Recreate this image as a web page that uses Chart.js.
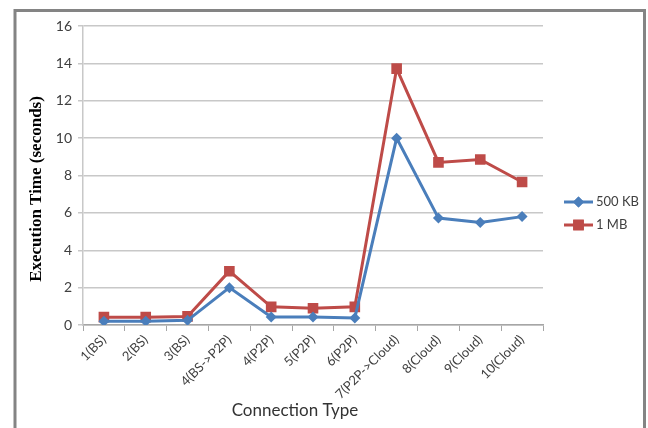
<!DOCTYPE html>
<html>
<head>
<meta charset="utf-8">
<script src="https://cdn.jsdelivr.net/npm/chart.js@4"></script>
<style>
  html, body { margin: 0; padding: 0; background: #fff; }
  #wrap { width: 648px; height: 428px; }
</style>
</head>
<body>
<div id="wrap"><canvas id="chart" width="648" height="428"></canvas></div>
<script>
const categories = [`1(BS)`, `2(BS)`, `3(BS)`, `4(BS->P2P)`, `4(P2P)`, `5(P2P)`, `6(P2P)`, `7(P2P->Cloud)`, `8(Cloud)`, `9(Cloud)`, `10(Cloud)`];
const kb500 = [0.2, 0.2, 0.25, 2.0, 0.43, 0.43, 0.38, 10.0, 5.72, 5.48, 5.8];
const mb1 = [0.42, 0.42, 0.46, 2.88, 0.97, 0.9, 0.97, 13.72, 8.7, 8.86, 7.65];
const seriesNames = [`500 KB`, `1 MB`];

const blue = `#4a7ebb`;
const red = `#be4b48`;
const tickFont = `Lato, "Liberation Sans", sans-serif`;

// outer frame, axis titles and the line+marker legend
const decorations = {
    id: `decorations`,
    beforeDraw(chart) {
        const ctx = chart.ctx;
        ctx.save();
        ctx.strokeStyle = `#848484`;
        ctx.lineWidth = 3;
        ctx.strokeRect(15, 10.5, 629.5, 440);
        ctx.restore();
    },
    afterDraw(chart) {
        const ctx = chart.ctx;
        ctx.save();
        ctx.fillStyle = `#333`;
        ctx.font = `17px ${tickFont}`;
        ctx.textAlign = `center`;
        ctx.textBaseline = `middle`;
        ctx.fillText(`Connection Type`, 295, 411);

        ctx.save();
        ctx.translate(37, 189);
        ctx.rotate(-Math.PI / 2);
        ctx.fillStyle = `#000`;
        ctx.font = `bold 17px "Liberation Serif", serif`;
        ctx.fillText(`Execution Time (seconds)`, 0, 0);
        ctx.restore();

        const items = [
            { label: seriesNames[0], color: blue, style: `rectRot`, r: 5.5, y: 202 },
            { label: seriesNames[1], color: red, style: `rect`, r: 7.5, y: 225 }
        ];
        items.forEach(item => {
            ctx.strokeStyle = item.color;
            ctx.lineWidth = 3;
            ctx.beginPath();
            ctx.moveTo(564, item.y);
            ctx.lineTo(593, item.y);
            ctx.stroke();
            ctx.fillStyle = item.color;
            Chart.helpers.drawPoint(ctx, { pointStyle: item.style, radius: item.r, borderWidth: 0 }, 578.5, item.y);
            ctx.fill();
            ctx.fillStyle = `#404040`;
            ctx.font = `13px ${tickFont}`;
            ctx.textAlign = `left`;
            ctx.fillText(item.label, 596, item.y);
        });
        ctx.restore();
    }
};

const config = {
    type: `line`,
    data: {
        labels: categories,
        datasets: [
            {
                label: seriesNames[0],
                data: kb500,
                borderColor: blue,
                backgroundColor: blue,
                borderWidth: 3,
                pointStyle: `rectRot`,
                pointRadius: 5.5,
                pointBorderWidth: 0,
                tension: 0
            },
            {
                label: seriesNames[1],
                data: mb1,
                borderColor: red,
                backgroundColor: red,
                borderWidth: 3,
                pointStyle: `rect`,
                pointRadius: 7.5,
                pointBorderWidth: 0,
                tension: 0
            }
        ]
    },
    options: {
        animation: false,
        responsive: false,
        layout: { padding: { left: 22, right: 105, top: 26, bottom: 0 } },
        plugins: {
            legend: { display: false },
            tooltip: { enabled: false }
        },
        scales: {
            x: {
                offset: true,
                grid: {
                    offset: true,
                    drawOnChartArea: false,
                    tickLength: 6,
                    color: `#a6a6a6`,
                    lineWidth: 1
                },
                border: { color: `#a6a6a6`, width: 1.5 },
                ticks: {
                    autoSkip: false,
                    maxRotation: 45,
                    minRotation: 45,
                    padding: 1,
                    color: `#404040`,
                    font: { family: tickFont, size: 13 }
                },
                afterFit(scale) { scale.height = 103; }
            },
            y: {
                min: 0,
                max: 16,
                ticks: {
                    stepSize: 2,
                    padding: 6,
                    color: `#404040`,
                    font: { family: tickFont, size: 14 }
                },
                grid: {
                    color: `#c8c8c8`,
                    lineWidth: 1.5,
                    tickLength: 5
                },
                border: { color: `#c8c8c8`, width: 1.5 },
                afterFit(scale) { scale.width = 61; }
            }
        }
    },
    plugins: [decorations]
};

new Chart(document.getElementById(`chart`), config);
</script>
</body>
</html>
